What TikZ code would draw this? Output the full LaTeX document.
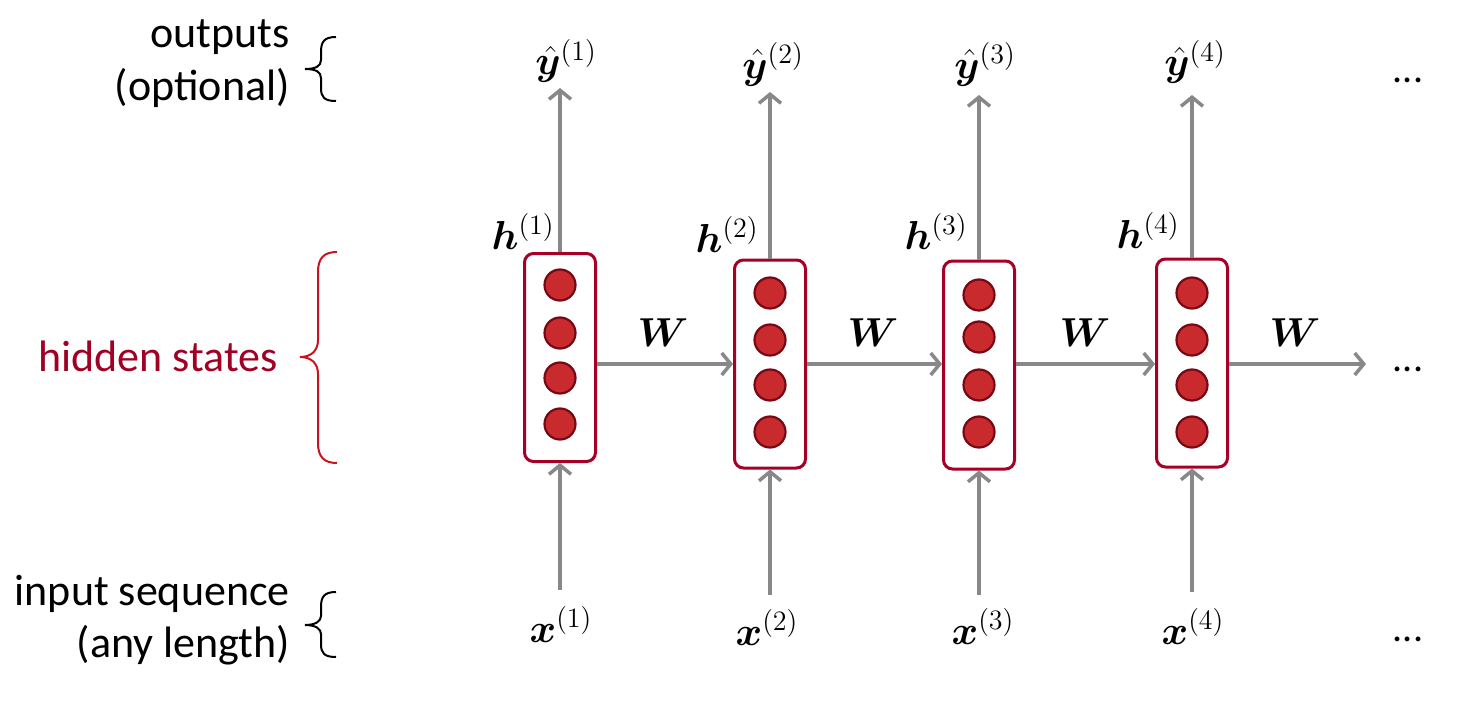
\documentclass[tikz,border=0pt]{standalone}
\usepackage{amsmath,bm}
\usepackage{fontspec}
\setmainfont{Carlito}
\usetikzlibrary{arrows.meta}
\definecolor{boxred}{RGB}{166,0,38}
\definecolor{dotfill}{RGB}{200,42,45}
\definecolor{dotline}{RGB}{120,8,20}
\definecolor{labred}{RGB}{160,0,35}
\definecolor{bracered}{RGB}{200,20,30}
\definecolor{arrgray}{RGB}{136,136,136}
\tikzset{
  hbox/.style={draw=boxred, line width=3pt, rounded corners=9pt, minimum width=71pt, minimum height=208pt, inner sep=0pt},
  unit/.style={circle, draw=dotline, fill=dotfill, line width=2.2pt, minimum size=31pt, inner sep=0pt},
  arr/.style={draw=arrgray, line width=3.5pt, -{Straight Barb[length=9pt,width=22pt,line width=3.5pt]}},
  lab/.style={font=\fontsize{44}{52}\selectfont, inner sep=0pt},
  mlab/.style={font=\huge, scale=1.95, transform shape, inner sep=0pt},
  brc/.style={line width=2pt},
  dots/.style={font=\fontsize{40}{48}\selectfont, inner sep=0pt},
}
\begin{document}
\begin{tikzpicture}[x=1pt,y=-1pt]
\useasboundingbox (0,0) rectangle (1460,709);
% hidden state boxes
\node[hbox] (h1) at (560,357.5) {};
\node[hbox] (h2) at (770,364) {};
\node[hbox] (h3) at (979,365) {};
\node[hbox] (h4) at (1192,363) {};
% units
\foreach \b/\x/\ya/\yb/\yc/\yd in {1/560/285/333/378/424, 2/770/293/340/385/432, 3/979/295/337/385/432, 4/1192/293/340/385/432}{
  \node[unit] (u\b a) at (\x,\ya) {};
  \node[unit] (u\b b) at (\x,\yb) {};
  \node[unit] (u\b c) at (\x,\yc) {};
  \node[unit] (u\b d) at (\x,\yd) {};
}
% recurrent arrows
\coordinate (r) at (0,364);
\coordinate (rend) at (1366,364);
\draw[arr] (h1.east |- r) -- (h2.west |- r);
\draw[arr] (h2.east |- r) -- (h3.west |- r);
\draw[arr] (h3.east |- r) -- (h4.west |- r);
\draw[arr] (h4.east |- r) -- (rend);
% W labels
\node[mlab, anchor=base] (w1) at (663,346) {$\bm{W}$};
\node[mlab, anchor=base] (w2) at (873,346) {$\bm{W}$};
\node[mlab, anchor=base] (w3) at (1085,346) {$\bm{W}$};
\node[mlab, anchor=base] (w4) at (1295,346) {$\bm{W}$};
% output arrows
\coordinate (o1) at (560,88);
\coordinate (o2) at (770,92);
\coordinate (o3) at (979,95);
\coordinate (o4) at (1192,95);
\draw[arr] (h1.north) -- (o1);
\draw[arr] (h2.north) -- (o2);
\draw[arr] (h3.north) -- (o3);
\draw[arr] (h4.north) -- (o4);
% input arrows
\coordinate (i1) at (560,590);
\coordinate (i2) at (770,595);
\coordinate (i3) at (979,595);
\coordinate (i4) at (1192,592);
\draw[arr] (i1) -- (h1.south);
\draw[arr] (i2) -- (h2.south);
\draw[arr] (i3) -- (h3.south);
\draw[arr] (i4) -- (h4.south);
% output labels
\node[mlab, anchor=base] (y1) at (566,75) {$\hat{\bm{y}}^{(1)}$};
\node[mlab, anchor=base] (y2) at (773,78) {$\hat{\bm{y}}^{(2)}$};
\node[mlab, anchor=base] (y3) at (985,78) {$\hat{\bm{y}}^{(3)}$};
\node[mlab, anchor=base] (y4) at (1195,76) {$\hat{\bm{y}}^{(4)}$};
% hidden labels
\node[mlab, anchor=base east] (hl1) at (555,249) {$\bm{h}^{(1)}$};
\node[mlab, anchor=base east] (hl2) at (759,252) {$\bm{h}^{(2)}$};
\node[mlab, anchor=base east] (hl3) at (968,249) {$\bm{h}^{(3)}$};
\node[mlab, anchor=base east] (hl4) at (1180,248) {$\bm{h}^{(4)}$};
% input labels
\node[mlab, anchor=base] (x1) at (561,642) {$\bm{x}^{(1)}$};
\node[mlab, anchor=base] (x2) at (767,645) {$\bm{x}^{(2)}$};
\node[mlab, anchor=base] (x3) at (983,644) {$\bm{x}^{(3)}$};
\node[mlab, anchor=base] (x4) at (1193,644) {$\bm{x}^{(4)}$};
% ellipses
\node[dots, anchor=base] (e1) at (1408,82) {...};
\node[dots, anchor=base] (e2) at (1408,371) {...};
\node[dots, anchor=base] (e3) at (1408,641) {...};
% left labels
\node[lab, anchor=base east] (t1) at (290,48) {outputs};
\node[lab, anchor=base east] (t2) at (290,100) {(optional)};
\node[lab, anchor=base east, text=labred] (t3) at (278,371) {hidden states};
\node[lab, anchor=base east] (t4) at (290,605) {input sequence};
\node[lab, anchor=base east] (t5) at (290,657) {(any length)};
% braces
\draw[brc] (336,37) .. controls (324,37) and (321,42) .. (321,52) -- (321,60)
  .. controls (321,66) and (316,69) .. (305,69) .. controls (316,69) and (321,72) .. (321,78)
  -- (321,88) .. controls (321,97) and (324,101) .. (336,101);
\draw[brc, draw=bracered] (337,252) .. controls (324,252) and (318,258) .. (318,272) -- (318,340)
  .. controls (318,350) and (312,357) .. (300,357) .. controls (312,357) and (318,364) .. (318,374)
  -- (318,443) .. controls (318,457) and (324,463) .. (337,463);
\draw[brc] (336,592) .. controls (324,592) and (321,597) .. (321,607) -- (321,616)
  .. controls (321,621) and (316,625) .. (305,625) .. controls (316,625) and (321,629) .. (321,634)
  -- (321,644) .. controls (321,653) and (324,657) .. (336,657);
\end{tikzpicture}
\end{document}
